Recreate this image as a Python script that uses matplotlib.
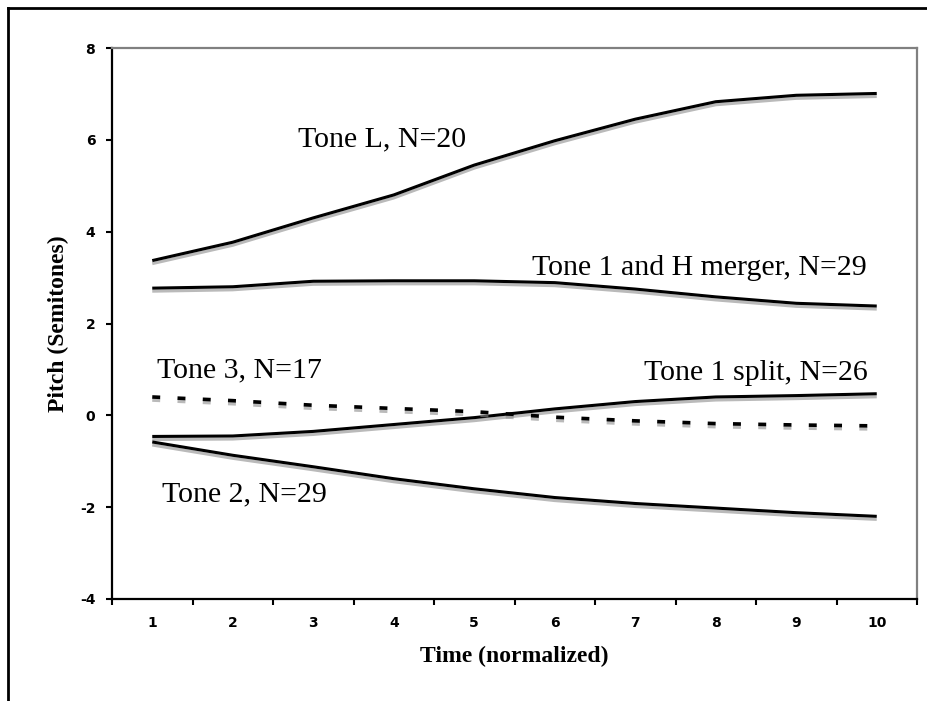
import matplotlib
matplotlib.use("Agg")
import matplotlib.pyplot as plt
import matplotlib.patheffects as pe
from matplotlib.lines import Line2D
import numpy as np

# time points (normalized) and mean pitch in semitones
time_pts = [1, 2, 3, 4, 5, 6, 7, 8, 9, 10]
tone_L = [3.37, 3.77, 4.3, 4.8, 5.45, 5.98, 6.45, 6.83, 6.97, 7.01]
tone_1H = [2.77, 2.8, 2.92, 2.93, 2.93, 2.89, 2.75, 2.58, 2.44, 2.38]
tone_1split = [-0.46, -0.45, -0.35, -0.2, -0.05, 0.14, 0.3, 0.4, 0.43, 0.47]
tone_3 = [0.4, 0.32, 0.22, 0.15, 0.08, -0.04, -0.12, -0.18, -0.21, -0.23]
tone_2 = [-0.58, -0.87, -1.12, -1.38, -1.6, -1.79, -1.92, -2.02, -2.12, -2.2]

y_ticks = [-4, -2, 0, 2, 4, 6, 8]
x_labels = ["1", "2", "3", "4", "5", "6", "7", "8", "9", "10"]

fig = plt.figure(figsize=(9.28, 7.01), dpi=100)
ax = fig.add_axes([112 / 928, 1 - 599 / 701, (917 - 112) / 928, (599 - 48) / 701])

shadow = [pe.SimpleLineShadow(offset=(0, -2.2), shadow_color="0.55", alpha=0.6),
          pe.Normal()]

for ys in [tone_L, tone_1H, tone_1split, tone_2]:
    ax.plot(time_pts, ys, color="black", lw=2.2, solid_capstyle="butt",
            path_effects=shadow)
ax.plot(time_pts, tone_3, color="black", lw=2.6, linestyle=(0, (2.2, 4.8)),
        dash_capstyle="butt", path_effects=shadow)

serif = ["Liberation Serif", "DejaVu Serif"]
lab_kw = dict(fontsize=21.5, family=serif, color="black", va="center")
ax.text(3.85, 6.0, "Tone L, N=20", ha="center", **lab_kw)
ax.text(9.88, 3.2, "Tone 1 and H merger, N=29", ha="right", **lab_kw)
ax.text(1.06, 0.97, "Tone 3, N=17", ha="left", **lab_kw)
ax.text(9.89, 0.92, "Tone 1 split, N=26", ha="right", **lab_kw)
ax.text(1.12, -1.72, "Tone 2, N=29", ha="left", **lab_kw)

ax.set_xlim(0.5, 10.5)
ax.set_ylim(-4, 8)
ax.set_yticks(y_ticks)
ax.set_yticklabels([str(v) for v in y_ticks])
ax.set_xticks(time_pts)
ax.set_xticklabels(x_labels)
ax.set_xticks(np.arange(0.5, 11, 1), minor=True)
ax.tick_params(axis="x", which="major", length=0, pad=12)
ax.tick_params(axis="x", which="minor", length=4, width=1.5, direction="out")
ax.tick_params(axis="y", length=4, width=1.5, direction="out", pad=8)
for lbl in ax.get_xticklabels() + ax.get_yticklabels():
    lbl.set_fontweight("bold")
    lbl.set_fontsize(10)

for side in ["left", "bottom"]:
    ax.spines[side].set_color("black")
    ax.spines[side].set_linewidth(1.6)
for side in ["top", "right"]:
    ax.spines[side].set_color("#808080")
    ax.spines[side].set_linewidth(1.6)

ax.set_xlabel("Time (normalized)", fontsize=17, fontweight="bold",
              family=serif, labelpad=12)
ax.set_ylabel("Pitch (Semitones)", fontsize=17, fontweight="bold",
              family=serif, labelpad=8)

# outer frame, open on the right and bottom
fig.add_artist(Line2D([8 / 928, 1.0], [1 - 8 / 701, 1 - 8 / 701],
                      transform=fig.transFigure, color="black", lw=2))
fig.add_artist(Line2D([8 / 928, 8 / 928], [0.0, 1 - 8 / 701],
                      transform=fig.transFigure, color="black", lw=2))

fig.savefig("out.png", dpi=100)
